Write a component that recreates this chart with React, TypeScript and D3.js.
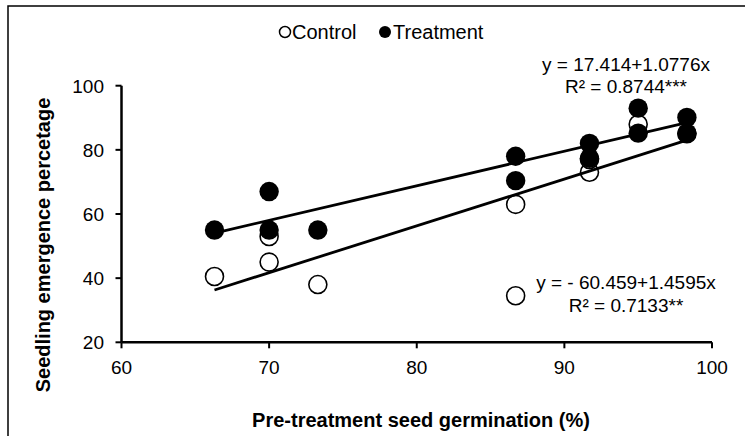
import * as d3 from "d3";
import { useEffect } from "react";

// valores
const controlX = [66.3, 70, 70, 73.3, 86.7, 86.7, 91.7, 91.7, 95, 98.3];
const controlY = [40.5, 53, 45, 38, 63, 34.5, 73, 77, 88, 85];
const tratX = [66.3, 70, 70, 73.3, 86.7, 86.7, 91.7, 91.7, 95, 95, 98.3, 98.3];
const tratY = [55, 67, 55, 55, 78, 70.4, 82, 77.4, 93, 85.2, 90.1, 85.2];

// ajustes lineales (intercepto, pendiente)
const ajusteControl = [-60.459, 1.4595];
const ajusteTrat = [-17.414, 1.0776];

const ejeXTicks = [60, 70, 80, 90, 100];
const ejeYTicks = [20, 40, 60, 80, 100];

const etiquetaTrat = ["y = 17.414+1.0776x", "R² = 0.8744***"];
const etiquetaControl = ["y =  - 60.459+1.4595x", "R² = 0.7133**"];

const fuente = "Arial, 'Liberation Sans', sans-serif";

const App = () => {
  useEffect(() => {
    document.body.style.margin = "0";
  }, []);

  const x = d3.scaleLinear().domain([60, 100]).range([121.5, 712]);
  const y = d3.scaleLinear().domain([20, 100]).range([342.3, 85.7]);

  const linea = d3
    .line<number>()
    .x((d) => x(d[0]))
    .y((d) => y(d[1]));

  const recta = (xs: number[], aj: number[]) => {
    const [a, b] = d3.extent(xs) as [number, number];
    return linea([
      [a, aj[0] + aj[1] * a],
      [b, aj[0] + aj[1] * b],
    ] as any);
  };

  const control = controlX.map((v, i) => [v, controlY[i]]);
  const trat = tratX.map((v, i) => [v, tratY[i]]);

  return (
    <svg width={745} height={436} style={{ display: "block", fontFamily: fuente }}>
      <rect x={0} y={0} width={745} height={436} fill="#fff" />
      {/* marco */}
      <rect x={8} y={6} width={800} height={500} fill="none" stroke="#000" strokeWidth={1.5} />

      {/* leyenda */}
      <g fontSize={20}>
        <circle cx={285} cy={32} r={5.5} fill="#fff" stroke="#000" strokeWidth={1.5} />
        <text x={292} y={39}>Control</text>
        <circle cx={385} cy={32} r={6} fill="#000" />
        <text x={393} y={39}>Treatment</text>
      </g>

      {/* ejes */}
      <g stroke="#000" strokeWidth={2.5}>
        <line x1={x(60)} x2={x(100)} y1={y(20)} y2={y(20)} />
        <line x1={x(60)} x2={x(60)} y1={y(20)} y2={y(100)} />
        {ejeXTicks.map((t) => (
          <line key={"xt" + t} x1={x(t)} x2={x(t)} y1={y(20)} y2={y(20) + 6} strokeWidth={2} />
        ))}
        {ejeYTicks.map((t) => (
          <line key={"yt" + t} x1={x(60) - 6} x2={x(60)} y1={y(t)} y2={y(t)} strokeWidth={2} />
        ))}
      </g>
      <g fontSize={19}>
        {ejeXTicks.map((t) => (
          <text key={"xl" + t} x={x(t)} y={y(20) + 32} textAnchor="middle">
            {t}
          </text>
        ))}
        {ejeYTicks.map((t) => (
          <text key={"yl" + t} x={104} y={y(t) + 7} textAnchor="end">
            {t}
          </text>
        ))}
      </g>

      {/* títulos */}
      <text x={421} y={427} textAnchor="middle" fontSize={20} fontWeight="bold">
        Pre-treatment seed germination (%)
      </text>
      <text
        transform="translate(50,245) rotate(-90)"
        textAnchor="middle"
        fontSize={20}
        fontWeight="bold"
      >
        Seedling emergence percetage
      </text>

      {/* puntos */}
      {control.map((d, i) => (
        <circle key={"c" + i} cx={x(d[0])} cy={y(d[1])} r={9} fill="#fff" stroke="#000" strokeWidth={1.6} />
      ))}
      <path d={recta(controlX, ajusteControl) || ""} stroke="#000" strokeWidth={2.8} fill="none" />
      <path d={recta(tratX, ajusteTrat) || ""} stroke="#000" strokeWidth={2.8} fill="none" />
      {trat.map((d, i) => (
        <circle key={"t" + i} cx={x(d[0])} cy={y(d[1])} r={9.7} fill="#000" />
      ))}

      {/* ecuaciones */}
      <g fontSize={19} textAnchor="middle">
        <text x={626} y={71}>{etiquetaTrat[0]}</text>
        <text x={626} y={93}>{etiquetaTrat[1]}</text>
        <text x={626} y={289}>{etiquetaControl[0]}</text>
        <text x={626} y={312}>{etiquetaControl[1]}</text>
      </g>
    </svg>
  );
};

export default App;
